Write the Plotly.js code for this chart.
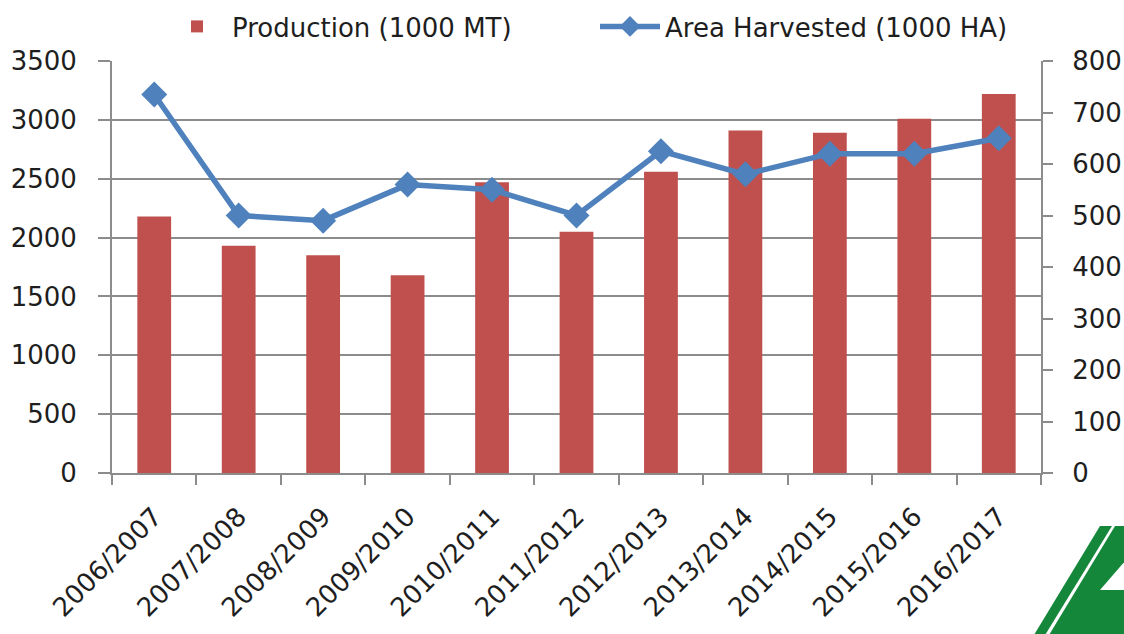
<!DOCTYPE html>
<html>
<head>
<meta charset="utf-8">
<script src="https://cdn.plot.ly/plotly-3.0.1.min.js"></script>
<style>html,body{margin:0;padding:0;background:#fff;}#chart{width:1124px;height:634px;}</style>
</head>
<body>
<div id="chart"></div>
<script>
const seasons = ["2006/2007","2007/2008","2008/2009","2009/2010","2010/2011","2011/2012","2012/2013","2013/2014","2014/2015","2015/2016","2016/2017"];
const production = [2180, 1930, 1850, 1680, 2470, 2050, 2560, 2910, 2890, 3010, 3220];
const areaHarvested = [735, 500, 490, 560, 550, 500, 625, 580, 620, 620, 650];
const leftTicks = [0, 500, 1000, 1500, 2000, 2500, 3000, 3500];
const rightTicks = [0, 100, 200, 300, 400, 500, 600, 700, 800];

const W = 1124, H = 634;
const M = {l: 112, r: 83, t: 61, b: 161};
const pw = W - M.l - M.r, ph = H - M.t - M.b;
function px(x){ return (x - M.l) / pw; }
function py(y){ return (H - M.b - y) / ph; }
function poly(pts){ return 'M' + pts.map(p => px(p[0]).toFixed(4) + ',' + py(p[1]).toFixed(4)).join(' L') + ' Z'; }

const grey = '#8c8c8c';
const font = {family: 'DejaVu Sans, sans-serif', size: 26, color: '#1e1e1e'};

const traces = [
  {type: 'bar', x: seasons, y: production, name: 'Production (1000 MT)',
   marker: {color: '#C0504D'}, yaxis: 'y'},
  {type: 'scatter', mode: 'lines+markers', x: seasons, y: areaHarvested, name: 'Area Harvested (1000 HA)',
   line: {color: '#4F81BD', width: 5.5}, marker: {symbol: 'diamond', size: 20, color: '#4F81BD'}, yaxis: 'y2'}
];

const green = '#15873a';
const layout = {
  width: W, height: H,
  margin: M,
  paper_bgcolor: '#fff', plot_bgcolor: '#fff',
  font: font,
  showlegend: true,
  legend: {orientation: 'h', xref: 'paper', x: px(162), xanchor: 'left',
           yref: 'container', y: 1 - 3 / H, yanchor: 'top',
           font: font, entrywidth: 358, entrywidthmode: 'pixels', traceorder: 'normal', itemwidth: 60},
  bargap: 0.6,
  xaxis: {type: 'category', range: [-0.5, seasons.length - 0.5], tickson: 'boundaries', ticks: 'outside',
          ticklen: 10, tickwidth: 2, tickcolor: grey, ticklabelstandoff: 16,
          showline: true, linecolor: grey, linewidth: 2, tickangle: -45, tickfont: font, showgrid: false},
  yaxis: {range: [0, 3500], tickvals: leftTicks, ticks: 'outside', ticklen: 12, tickwidth: 2, tickcolor: grey,
          ticklabelstandoff: 16,
          showline: true, linecolor: grey, linewidth: 2, showgrid: true, gridcolor: grey, gridwidth: 2,
          zeroline: false, tickfont: font},
  yaxis2: {range: [0, 800], tickvals: rightTicks, overlaying: 'y', side: 'right', ticks: 'outside', ticklen: 10,
           ticklabelstandoff: 14,
           tickwidth: 2, tickcolor: grey, showline: true, linecolor: grey, linewidth: 2, showgrid: false,
           zeroline: false, tickfont: font},
  shapes: [
    {type: 'path', xref: 'paper', yref: 'paper', path: poly([[1100,526],[1112,526],[1042,640],[1031,640]]),
     fillcolor: green, line: {width: 0}, layer: 'above'},
    {type: 'path', xref: 'paper', yref: 'paper', path: poly([[1115,526],[1130,526],[1130,640],[1046,640]]),
     fillcolor: green, line: {width: 0}, layer: 'above'},
    {type: 'path', xref: 'paper', yref: 'paper', path: poly([[1126,560],[1126,590],[1100,590]]),
     fillcolor: '#ffffff', line: {width: 0}, layer: 'above'}
  ]
};

Plotly.newPlot('chart', traces, layout, {displayModeBar: false, staticPlot: true});
</script>
</body>
</html>
